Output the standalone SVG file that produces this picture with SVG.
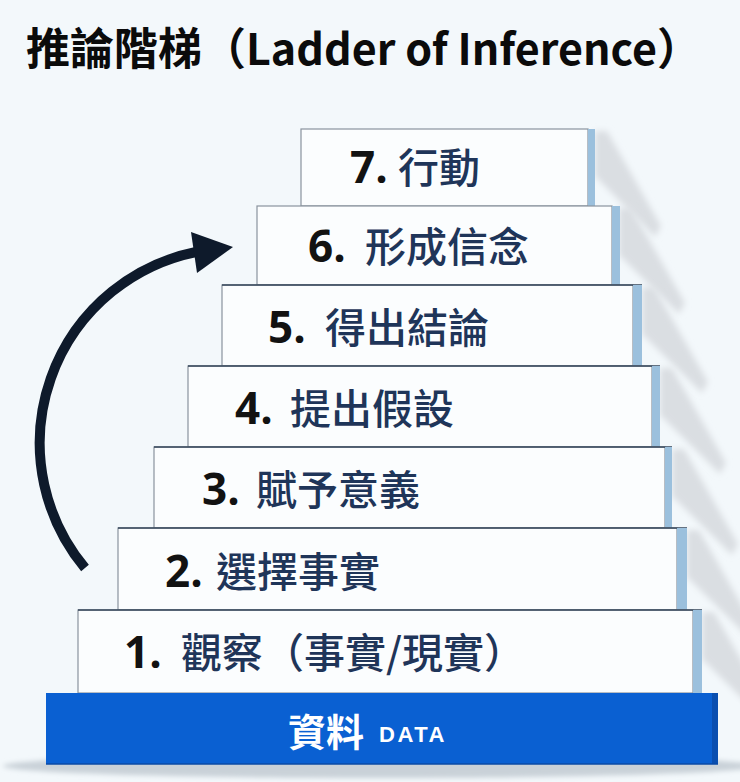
<svg xmlns="http://www.w3.org/2000/svg" width="740" height="782" viewBox="0 0 740 782">
  <defs>
    <filter id="soft" x="-20%" y="-20%" width="140%" height="140%">
      <feGaussianBlur stdDeviation="3"/>
    </filter>
    <filter id="softer" x="-10%" y="-100%" width="120%" height="300%">
      <feGaussianBlur stdDeviation="2.5"/>
    </filter>
    <style>
      .bg { fill: #f3f8fb; }
      .shadow { fill: #dadee2; filter: url(#soft); }
      .box { fill: #fbfdfe; stroke: #8a939d; stroke-width: 1.2; }
      .topline { stroke: #34465a; stroke-width: 1.6; }
      .strip { fill: #9bc0dd; }
      .num { font-family: "Open Sans", "Liberation Sans", sans-serif; font-weight: 700; font-size: 44px; fill: #121212; }
      .lbl { font-family: "Noto Sans CJK TC", "Noto Sans CJK SC", sans-serif; font-weight: 500; font-size: 41px; fill: #1f3559; }
      .title { font-family: "Noto Sans CJK TC", "Noto Sans CJK SC", sans-serif; font-weight: 700; font-size: 44px; fill: #0b0b0b; }
      .arrow { fill: none; stroke: #0e1a2b; stroke-width: 10; }
    </style>
  </defs>

  <rect class="bg" x="0" y="0" width="740" height="782"/>

  <g id="title">
    <text class="title" x="26" y="65">推論階梯（<tspan font-size="43">Ladder of Inference</tspan>）</text>
  </g>

  <g id="shadows">
    <polygon class="shadow" points="595,131 607,131 661,226 655,237 595,176"/>
    <polygon class="shadow" points="619,208 631,208 685,303 679,314 619,255"/>
    <polygon class="shadow" points="642,287 654,287 708,382 702,393 642,334"/>
    <polygon class="shadow" points="660,368 672,368 726,463 720,474 660,415"/>
    <polygon class="shadow" points="672,449 684,449 738,544 732,555 672,496"/>
    <polygon class="shadow" points="687,530 699,530 753,625 747,636 687,577"/>
    <polygon class="shadow" points="702,612 714,612 768,707 762,718 702,659"/>
    <ellipse cx="380" cy="766" rx="377" ry="12" fill="#c9d1d8" filter="url(#softer)"/>
  </g>

  <g id="step-7">
    <rect class="box" x="301" y="129" width="287" height="77"/>
    <rect class="strip" x="588" y="129" width="7" height="77"/>
    <text class="num" x="350" y="183">7.</text>
    <text class="lbl" x="398" y="183">行動</text>
  </g>

  <g id="step-6">
    <rect class="box" x="257" y="206" width="355" height="79"/>
    <rect class="strip" x="612" y="206" width="8" height="79"/>
    <text class="num" x="308" y="262">6.</text>
    <text class="lbl" x="365" y="262">形成信念</text>
  </g>

  <g id="step-5">
    <rect class="box" x="222" y="285" width="411" height="81"/>
    <line class="topline" x1="222" y1="285" x2="642" y2="285"/>
    <rect class="strip" x="633" y="285" width="9" height="81"/>
    <text class="num" x="268" y="343">5.</text>
    <text class="lbl" x="325" y="343">得出結論</text>
  </g>

  <g id="step-4">
    <rect class="box" x="188" y="366" width="464" height="81"/>
    <line class="topline" x1="188" y1="366" x2="660" y2="366"/>
    <rect class="strip" x="652" y="366" width="8" height="81"/>
    <text class="num" x="235" y="424">4.</text>
    <text class="lbl" x="290" y="424">提出假設</text>
  </g>

  <g id="step-3">
    <rect class="box" x="154" y="447" width="511" height="81"/>
    <line class="topline" x1="154" y1="447" x2="672" y2="447"/>
    <rect class="strip" x="665" y="447" width="7" height="81"/>
    <text class="num" x="202" y="505">3.</text>
    <text class="lbl" x="256" y="505">賦予意義</text>
  </g>

  <g id="step-2">
    <rect class="box" x="118" y="528" width="559" height="82"/>
    <line class="topline" x1="118" y1="528" x2="687" y2="528"/>
    <rect class="strip" x="677" y="528" width="10" height="82"/>
    <text class="num" x="165" y="587">2.</text>
    <text class="lbl" x="216" y="587">選擇事實</text>
  </g>

  <g id="step-1">
    <rect class="box" x="78" y="610" width="615" height="83"/>
    <line class="topline" x1="78" y1="610" x2="702" y2="610"/>
    <rect class="strip" x="693" y="610" width="9" height="83"/>
    <text class="num" x="124" y="668">1.</text>
    <text class="lbl" x="181" y="668">觀察（事實/現實）</text>
  </g>

  <g id="base-data">
    <rect x="46" y="693" width="672" height="71" fill="#0a60d2"/>
    <rect x="712" y="693" width="6" height="71" fill="#0a4fb0"/>
    <line x1="46" y1="764" x2="718" y2="764" stroke="#0a4aa6" stroke-width="1.5"/>
    <text x="288" y="746" font-family="Noto Sans CJK TC, Noto Sans CJK SC, sans-serif" font-weight="700" font-size="38" fill="#ffffff">資料</text>
    <text x="379" y="742" font-family="Liberation Sans, Arial, sans-serif" font-weight="700" font-size="22" letter-spacing="2.5" fill="#ffffff">DATA</text>
  </g>

  <g id="connectors">
    <path class="arrow" d="M 85 568 A 195 195 0 0 1 196 252"/>
    <polygon points="191,232 233,247 197,273" fill="#0e1a2b"/>
  </g>
</svg>
